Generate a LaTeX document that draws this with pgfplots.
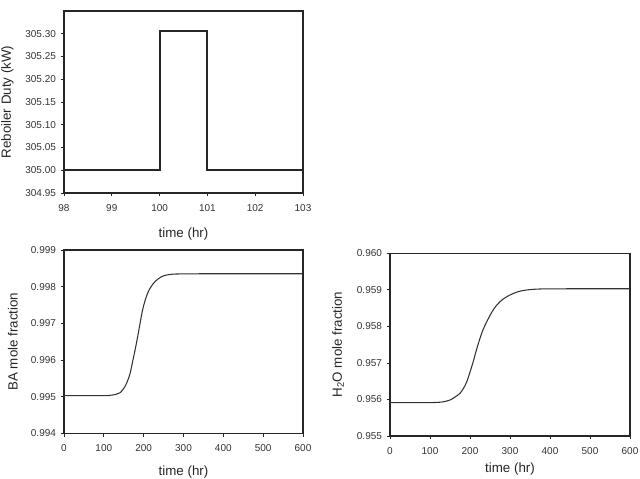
\documentclass[border=0pt]{standalone}
\usepackage{pgfplots}
\pgfplotsset{compat=1.18}
\usepackage{fontspec}
\setmainfont{Liberation Sans}
\definecolor{frame}{gray}{0.15}
\definecolor{curve}{gray}{0.2}
\pgfplotsset{
  common/.style={
    scale only axis,
    anchor=south west,
    axis line style={frame, line width=1.1pt},
    tick style={frame, line width=0.6pt},
    tick align=outside,
    major tick length=2.5pt,
    xtick pos=bottom, ytick pos=left,
    scaled y ticks=false, scaled x ticks=false,
    /pgf/number format/assume math mode=true,
    tick label style={font=\fontsize{7.5}{9}\selectfont, text=black!80},
    xticklabel style={yshift=-2.25pt},
    label style={font=\fontsize{10}{12}\selectfont, text=black!85},
  }
}
\begin{document}
\begin{tikzpicture}
\path[use as bounding box] (0,0) rectangle (480pt,359.25pt);
% top
\begin{axis}[common,
  at={(48pt,214.5pt)}, width=179.25pt, height=136.5pt,
  xmin=98, xmax=103, ymin=304.95, ymax=305.35,
  xtick={98,99,100,101,102,103},
  ytick={304.95,305.00,305.05,305.10,305.15,305.20,305.25,305.30},
  yticklabels={304.95,305.00,305.05,305.10,305.15,305.20,305.25,305.30},
  xlabel={time (hr)}, ylabel={Reboiler Duty (kW)},
  xlabel style={yshift=-6pt},
  ylabel style={yshift=2pt},
]
\addplot[black!85, line width=1.5pt] coordinates {
(98,305.0) (100,305.0) (100,305.305) (101,305.305) (101,305.0) (103,305.0)};
\end{axis}
% bottom left
\begin{axis}[common,
  at={(48pt,34.3pt)}, width=179.25pt, height=137.5pt,
  xmin=0, xmax=600, ymin=0.994, ymax=0.999,
  xtick={0,100,200,300,400,500,600},
  ytick={0.994,0.995,0.996,0.997,0.998,0.999},
  yticklabels={0.994,0.995,0.996,0.997,0.998,0.999},
  xlabel={time (hr)}, ylabel={BA mole fraction},
  xlabel style={yshift=-3.75pt},
  ylabel style={yshift=3pt},
]
\addplot[curve, line width=0.8pt, smooth] coordinates {
(0,0.995026) (100,0.995026) (116,0.995035) (130,0.99506) (141,0.995107) (153,0.995271) (160,0.99544)
(166,0.995636) (172,0.99594) (178.5,0.996272) (185,0.99664) (191,0.997) (197,0.99735) (204,0.997636)
(210,0.99782) (216,0.997954) (224,0.99808) (233,0.998181) (245,0.99827) (258,0.998318) (275,0.99834) (292,0.998345)
(350,0.99835) (450,0.99835) (600,0.99835)};
\end{axis}
% bottom right
\begin{axis}[common,
  at={(292.5pt,32.25pt)}, width=180pt, height=137pt,
  xmin=0, xmax=600, ymin=0.955, ymax=0.960,
  xtick={0,100,200,300,400,500,600},
  ytick={0.955,0.956,0.957,0.958,0.959,0.960},
  yticklabels={0.955,0.956,0.957,0.958,0.959,0.960},
  xlabel={time (hr)}, ylabel={H\textsubscript{2}O mole fraction},
  xlabel style={yshift=0pt},
  ylabel style={yshift=3pt},
]
\addplot[curve, line width=0.8pt, smooth] coordinates {
(0,0.955915) (100,0.955915) (130,0.95593) (150,0.955985) (163,0.95607) (175,0.956169) (184,0.95631) (192,0.956487)
(200,0.95675) (208,0.957034) (216,0.95735) (225,0.957674) (233,0.95792) (242,0.958129) (254,0.95838) (267,0.958586)
(283,0.95875) (300,0.95886) (320,0.95895) (342,0.958997) (375,0.959024) (450,0.95903) (600,0.95903)};
\end{axis}
\end{tikzpicture}
\end{document}
